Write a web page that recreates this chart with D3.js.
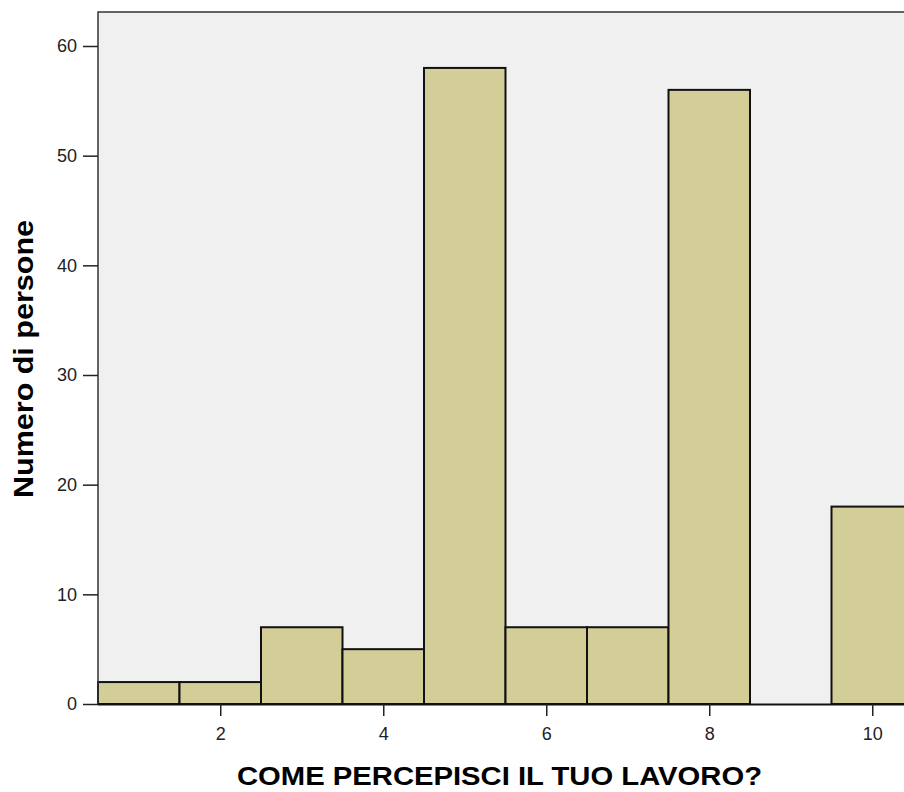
<!DOCTYPE html>
<html>
<head>
<meta charset="utf-8">
<script src="https://cdn.jsdelivr.net/npm/d3@7"></script>
<style>
  html, body { margin: 0; padding: 0; background: #fff; }
  svg { display: block; font-family: 'Liberation Sans', Arial, sans-serif; }
</style>
</head>
<body>
<svg id="chart" width="904" height="792"></svg>
<script>
  // bin centers and counts
  const binCenters = [1, 2, 3, 4, 5, 6, 7, 8, 9, 10];
  const counts = [2, 2, 7, 5, 58, 7, 7, 56, 0, 18];
  const xTicks = [2, 4, 6, 8, 10];
  const yTicks = [0, 10, 20, 30, 40, 50, 60];
  const xTitle = 'COME PERCEPISCI IL TUO LAVORO?';
  const yTitle = 'Numero di persone';

  (function () {
    const svg = d3.select('#chart');
    const plotLeft = 98, plotTop = 12, plotBottom = 704;
    const x = d3.scaleLinear().domain([0.5, 10.5]).range([plotLeft, plotLeft + 815]);
    const y = d3.scaleLinear().domain([0, 60]).range([plotBottom, 46]);
    const font = "'Liberation Sans', Arial, sans-serif";

    // plot background
    svg.append('rect')
      .attr('x', plotLeft).attr('y', plotTop)
      .attr('width', 904 - plotLeft).attr('height', plotBottom - plotTop)
      .attr('fill', '#f0f0f0');

    // bars
    svg.append('g')
      .selectAll('rect')
      .data(binCenters.map((c, i) => ({ c, n: counts[i] })))
      .join('rect')
      .attr('x', (d) => x(d.c - 0.5))
      .attr('y', (d) => y(d.n))
      .attr('width', (d) => x(d.c + 0.5) - x(d.c - 0.5))
      .attr('height', (d) => y(0) - y(d.n))
      .attr('fill', '#d3cd97')
      .attr('stroke', '#111')
      .attr('stroke-width', 2);

    // frame: left and top
    svg.append('path')
      .attr('d', `M${plotLeft},${plotBottom}V${plotTop}H904`)
      .attr('fill', 'none')
      .attr('stroke', '#333')
      .attr('stroke-width', 1.5);

    // y axis
    const yAxis = svg.append('g')
      .attr('transform', `translate(${plotLeft},0)`)
      .call(d3.axisLeft(y).tickValues(yTicks).tickSize(15).tickPadding(6));
    yAxis.select('.domain').remove();
    yAxis.selectAll('line').attr('stroke', '#222').attr('stroke-width', 1.5);
    yAxis.selectAll('text').attr('font-size', 18).attr('fill', '#222').attr('font-family', font);

    // x axis
    const xAxis = svg.append('g')
      .attr('transform', `translate(0,${plotBottom})`)
      .call(d3.axisBottom(x).tickValues(xTicks).tickSize(12).tickPadding(11));
    xAxis.select('.domain')
      .attr('d', `M${plotLeft},0.5H904`)
      .attr('stroke', '#111').attr('stroke-width', 2);
    xAxis.selectAll('line').attr('stroke', '#222').attr('stroke-width', 1.5);
    xAxis.selectAll('text').attr('font-size', 18).attr('fill', '#222').attr('font-family', font);

    // titles
    svg.append('text')
      .attr('x', 237).attr('y', 785)
      .attr('font-size', 25).attr('font-weight', 'bold')
      .attr('textLength', 525).attr('lengthAdjust', 'spacingAndGlyphs')
      .text(xTitle);

    svg.append('text')
      .attr('transform', 'translate(33,498) scale(1.25,1) rotate(-90)')
      .attr('font-size', 22).attr('font-weight', 'bold')
      .attr('textLength', 278).attr('lengthAdjust', 'spacingAndGlyphs')
      .text(yTitle);
  })();
</script>
</body>
</html>
